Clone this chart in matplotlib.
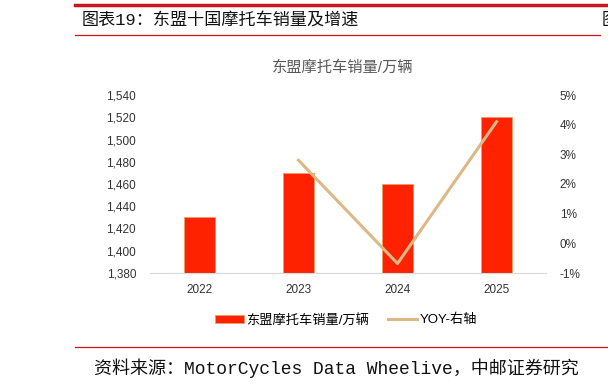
import matplotlib
matplotlib.use("Agg")
import matplotlib.pyplot as plt
from matplotlib.lines import Line2D
from matplotlib.patches import Patch
import numpy as np

plt.rcParams['font.family'] = ['Liberation Sans', 'Noto Sans CJK SC', 'DejaVu Sans']

years = ['2022', '2023', '2024', '2025']
sales = [1430, 1470, 1460, 1520]          # 万辆
yoy = [None, 2.8, -0.68, 4.1]             # %

fig = plt.figure(figsize=(6.08, 3.9), dpi=100)

# header / footer decorations
fig.add_artist(Line2D([75/608, 1], [1 - 5/390] * 2, color='#C8161D', lw=2.5))
fig.add_artist(Line2D([75/608, 600/608], [1 - 35/390] * 2, color='#C8161D', lw=0.9))
fig.add_artist(Line2D([75/608, 1], [1 - 347/390] * 2, color='#C8161D', lw=0.9))
head_font = ['Liberation Mono', 'Noto Sans CJK SC', 'DejaVu Sans']
fig.text(82/608, 1 - 20/390, '图表19：东盟十国摩托车销量及增速', fontsize=12.3,
         va='center', ha='left', color='#111111', family=head_font)
fig.text(602/608, 1 - 20/390, '图', fontsize=12.3, va='center', ha='left',
         color='#111111', family=head_font)
fig.text(94/608, 1 - 368/390, '资料来源：MotorCycles Data Wheelive，中邮证券研究',
         fontsize=13, va='center', ha='left', color='#111111', family=head_font)

ax = fig.add_axes([150/608, 1 - 273/390, 396/608, 178/390])
x = np.arange(len(years))
ax.bar(x, sales, width=0.32, color='#FF2200', edgecolor='#E8A060', linewidth=0.6,
       label='东盟摩托车销量/万辆', zorder=2)
ax.set_xlim(-0.5, 3.5)
ax.set_ylim(1380, 1540)
ax.set_yticks(np.arange(1380, 1541, 20))
ax.set_yticklabels([f'{v:,}' for v in range(1380, 1541, 20)])
ax.set_xticks(x)
ax.set_xticklabels(years)
for s in ['top', 'right', 'left']:
    ax.spines[s].set_visible(False)
ax.spines['bottom'].set_color('#D9D9D9')
ax.tick_params(axis='both', length=0, labelsize=8.5, colors='#333333')
ax.tick_params(axis='y', pad=10)
ax.tick_params(axis='x', pad=8)

ax2 = ax.twinx()
ax2.plot(x[1:], yoy[1:], color='#DDB887', lw=2.2, zorder=3)
ax2.set_ylim(-1, 5)
ax2.set_yticks(range(-1, 6))
ax2.set_yticklabels([f'{v}%' for v in range(-1, 6)])
for s in ax2.spines.values():
    s.set_visible(False)
ax2.tick_params(axis='y', length=0, labelsize=8.5, colors='#333333', pad=10)

fig.text(343/608, 1 - 68/390, '东盟摩托车销量/万辆', fontsize=11, color='#595959',
         ha='center', va='center')

handles = [Patch(facecolor='#FF2200', edgecolor='#E8A060', linewidth=0.6),
           Line2D([0], [0], color='#DDB887', lw=2.2)]
fig.legend(handles, ['东盟摩托车销量/万辆', 'YOY-右轴'], loc='center',
           bbox_to_anchor=(346/608, 1 - 320/390), ncol=2, frameon=False,
           fontsize=9.5, handlelength=2.2, handleheight=0.6, columnspacing=1.4,
           handletextpad=0.2)

fig.savefig('out.png', dpi=100)
